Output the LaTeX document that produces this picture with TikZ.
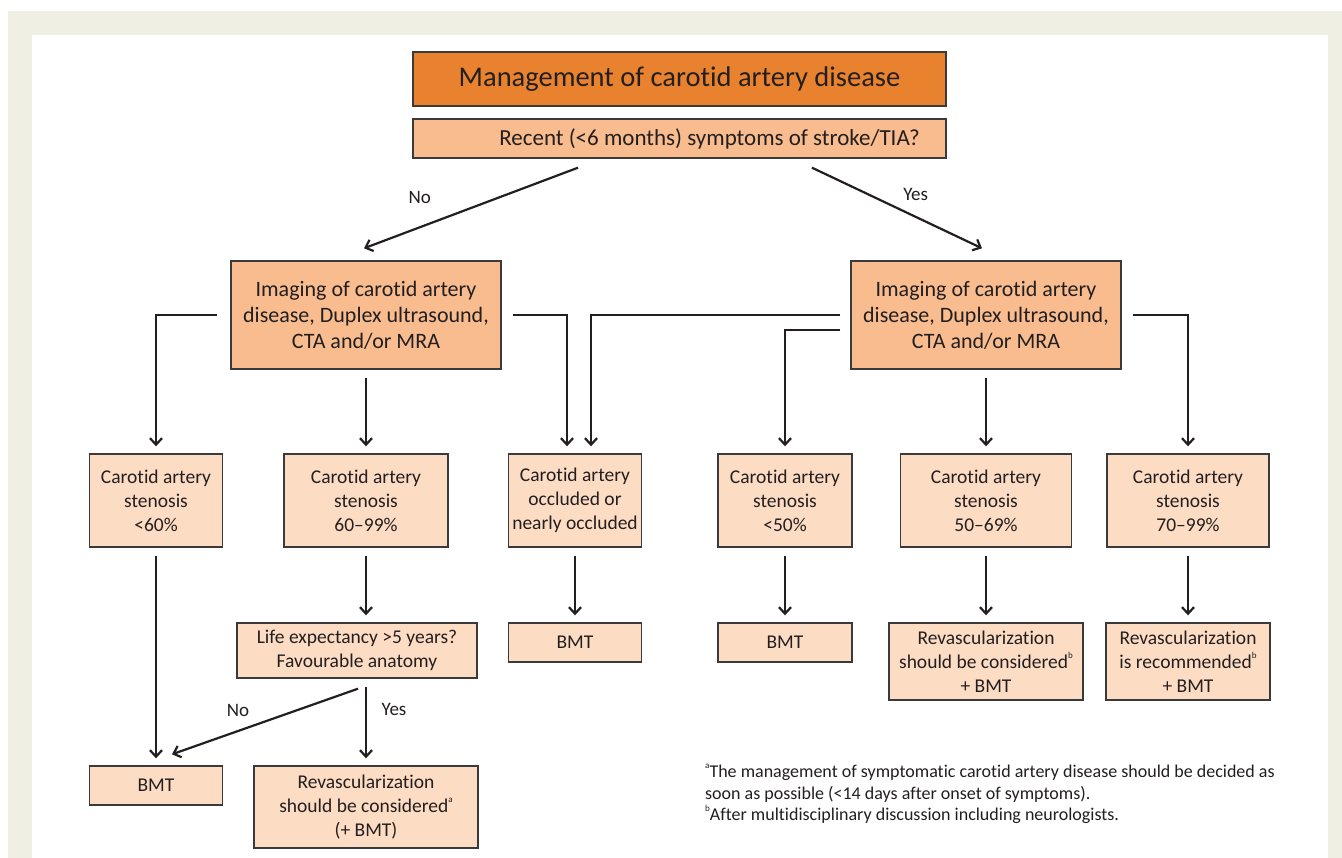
\documentclass[tikz,border=0pt]{standalone}
\usepackage{fontspec}
\setmainfont{Carlito}[Ligatures=NoCommon]
\usetikzlibrary{arrows.meta, positioning}

\definecolor{framebeige}{HTML}{EFEFE3}
\definecolor{titleorange}{HTML}{E9822F}
\definecolor{midorange}{HTML}{F9BC8F}
\definecolor{paleorange}{HTML}{FDDCC4}
\definecolor{boxline}{HTML}{3A3A3A}
\definecolor{arrowink}{HTML}{231F20}

\newcommand{\fnmark}[1]{\raisebox{0.5em}{\fontsize{9}{9}\selectfont #1}}

\begin{document}
\begin{tikzpicture}[x=1pt, y=-1pt,
		box/.style={draw=boxline, line width=1.4pt, align=center, inner sep=0pt, text=arrowink},
		titlebox/.style={box, fill=titleorange, font=\fontsize{28.5}{30}\selectfont},
		askbox/.style={box, fill=midorange, font=\fontsize{23}{26}\selectfont},
		imgbox/.style={box, fill=midorange, font=\fontsize{22}{26}\selectfont, minimum width=270pt, minimum height=108pt},
		leafbox/.style={box, fill=paleorange, font=\fontsize{19.5}{24}\selectfont},
		lbl/.style={font=\fontsize{19}{20}\selectfont, text=arrowink},
		elbow/.style={to path={-| (\tikztotarget) \tikztonodes}},
		arr/.style={-{Straight Barb[length=6.5pt, width=12pt]}, line width=2.2pt, color=arrowink}
	]
	\useasboundingbox (0,0) rectangle (1342,858);
	\fill [framebeige] (8,11) rectangle (1342,858);
	\fill [white] (32,35) rectangle (1328,858);

	% top of the chart
	\node (title) [titlebox, minimum width=533pt, minimum height=54pt] at (679.5,79) {Management of carotid artery disease};
	\node (ask) [askbox, minimum width=533pt, minimum height=39pt] at (679.5,138.5) {\hspace*{60pt}Recent (<6 months) symptoms of stroke/TIA?};

	\node (imgL) [imgbox] at (366,315) {Imaging of carotid artery\\disease, Duplex ultrasound,\\CTA and/or MRA};
	\node (imgR) [imgbox] at (986,315) {Imaging of carotid artery\\disease, Duplex ultrasound,\\CTA and/or MRA};

	% degree of stenosis
	\node (s60) [leafbox, minimum width=133pt, minimum height=93pt] at (156,500.5) {Carotid artery\\stenosis\\<60\%};
	\node (s6099) [leafbox, minimum width=164pt, minimum height=93pt] at (366,500.5) {Carotid artery\\stenosis\\60--99\%};
	\node (occ) [leafbox, minimum width=133pt, minimum height=93pt] at (575,500.5) {Carotid artery\\occluded or\\nearly occluded};
	\node (s50) [leafbox, minimum width=134pt, minimum height=93pt] at (785,500.5) {Carotid artery\\stenosis\\<50\%};
	\node (s5069) [leafbox, minimum width=171pt, minimum height=93pt] at (986,500.5) {Carotid artery\\stenosis\\50--69\%};
	\node (s7099) [leafbox, minimum width=162pt, minimum height=93pt] at (1188,500.5) {Carotid artery\\stenosis\\70--99\%};

	% outcomes
	\node (life) [leafbox, minimum width=240pt, minimum height=55pt] at (357,650.5) {Life expectancy >5 years?\\Favourable anatomy};
	\node (bmtC) [leafbox, minimum width=133pt, minimum height=39pt] at (575,642.5) {BMT};
	\node (bmtD) [leafbox, minimum width=134pt, minimum height=39pt] at (785,642.5) {BMT};
	\node (revE) [leafbox, minimum width=194pt, minimum height=77pt] at (986,661.5) {Revascularization\\should be considered\fnmark{b}\\+ BMT};
	\node (revF) [leafbox, minimum width=164pt, minimum height=77pt] at (1188,661.5) {Revascularization\\is recommended\fnmark{b}\\+ BMT};
	\node (bmtA) [leafbox, minimum width=133pt, minimum height=39pt] at (156,785.5) {BMT};
	\node (revB) [leafbox, minimum width=224pt, minimum height=82pt] at (366,807) {Revascularization\\should be considered\fnmark{a}\\(+ BMT)};

	\node (notes) [anchor=north west, align=left, inner sep=0pt, text=arrowink, font=\fontsize{18}{21.5}\selectfont] at (705,764) {\fnmark{a}The management of symptomatic carotid artery disease should be decided as\\soon as possible (<14 days after onset of symptoms).\\\fnmark{b}After multidisciplinary discussion including neurologists.};

	\path [arr]
		([shift={(-101.5,9)}]ask.south) edge node [lbl, pos=0.74, yshift=30pt] {No} ([shift={(-2,-12)}]imgL.north)
		([shift={(132.5,9)}]ask.south) edge node [lbl, pos=0.61, yshift=22pt] {Yes} ([shift={(-4,-12)}]imgR.north)
		([shift={(1,10)}]life.south) edge node [lbl, pos=0.645, yshift=21pt] {No} ([shift={(16,-11)}]bmtA.north)
		;

	\path [arr, shorten <=8pt, shorten >=7pt]
		(imgL) edge (s6099)
		(imgR) edge (s5069)
		(s60) edge (bmtA)
		(s6099.south) edge (s6099.south |- life.north)
		(occ) edge (bmtC)
		(s50) edge (bmtD)
		(s5069) edge (revE)
		(s7099) edge (revF)
		(life.south -| revB) edge node [lbl, pos=0.36, xshift=28pt] {Yes} (revB)
		;

	\path [arr, shorten >=7pt]
		(imgL.west) edge [elbow, shorten <=13pt] (s60.north)
		(imgL.east) edge [elbow, shorten <=11pt] ([xshift=-8pt]occ.north)
		(imgR.west) edge [elbow, shorten <=10pt] ([xshift=16pt]occ.north)
		([yshift=-15pt]imgR.west) edge [elbow, shorten <=10pt] (s50.north)
		(imgR.east) edge [elbow, shorten <=11pt] (s7099.north)
		;
\end{tikzpicture}
\end{document}
